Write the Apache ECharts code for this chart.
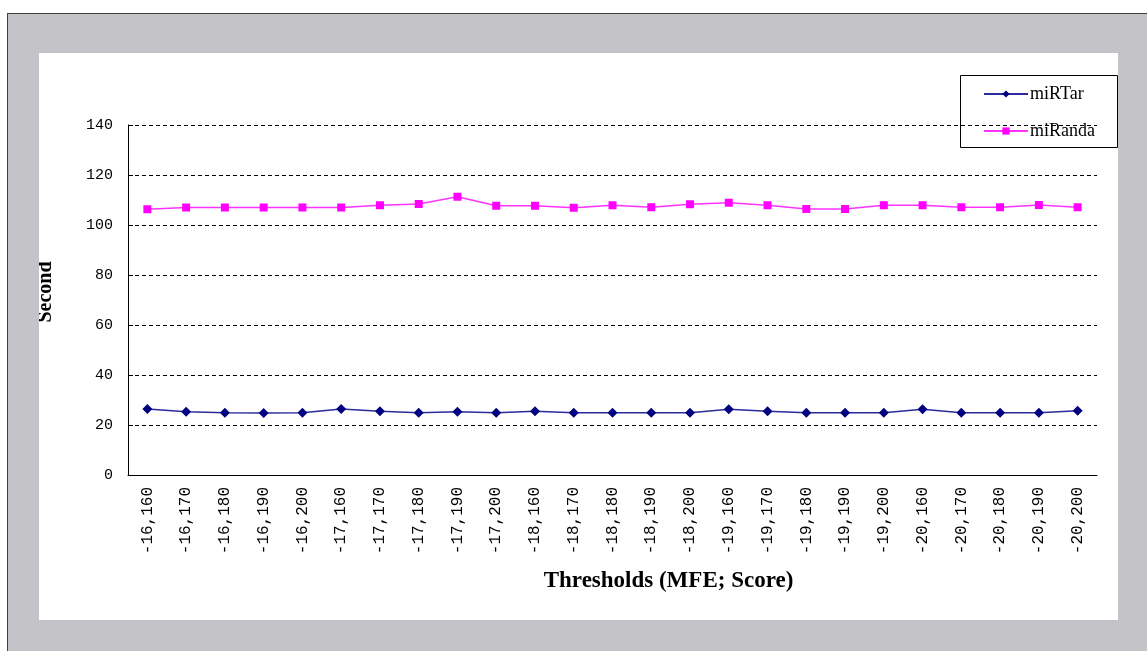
<!DOCTYPE html>
<html>
<head>
<meta charset="utf-8">
<script src="https://cdn.jsdelivr.net/npm/echarts@6/dist/echarts.min.js"></script>
<style>
  html, body { margin: 0; padding: 0; background: #fff; width: 1147px; height: 651px; overflow: hidden; }
  #frame { position: absolute; left: 7px; top: 13px; width: 1150px; height: 650px; background: #c4c3c7; border: 1px solid #404040; }
  #chart { position: absolute; left: 39px; top: 53px; width: 1079px; height: 567px; background: #fff; }
</style>
</head>
<body>
<div id="frame"></div>
<div id="chart"></div>
<script>
  var categories = ['-16,160', '-16,170', '-16,180', '-16,190', '-16,200',
    '-17,160', '-17,170', '-17,180', '-17,190', '-17,200',
    '-18,160', '-18,170', '-18,180', '-18,190', '-18,200',
    '-19,160', '-19,170', '-19,180', '-19,190', '-19,200',
    '-20,160', '-20,170', '-20,180', '-20,190', '-20,200']
  var miRTar = [26.4, 25.3, 24.9, 24.8, 24.9, 26.4, 25.5, 24.9, 25.3, 24.9, 25.5, 24.9, 24.9,
    24.9, 24.9, 26.3, 25.5, 24.9, 24.9, 24.9, 26.3, 24.9, 24.9, 24.9, 25.7]
  var miRanda = [106.3, 107, 107, 107, 107, 107, 107.9, 108.4, 111.3, 107.7, 107.7, 106.9, 107.9,
    107.1, 108.3, 108.9, 107.9, 106.4, 106.4, 107.9, 107.9, 107.1, 107.1, 108, 107.1]
  var yTicks = { min: 0, max: 140, interval: 20 }

  var serif = '"Liberation Serif", "Times New Roman", serif'
  var mono = '"Liberation Mono", monospace'
  var chart = echarts.init(document.getElementById('chart'))

  chart.setOption({
    animation: false,
    textStyle: { fontFamily: serif, color: '#000' },
    grid: { left: 89, top: 72, width: 969, height: 350, containLabel: false, outerBoundsMode: 'none' },
    graphic: [{
      type: 'rect',
      shape: { x: 921.5, y: 22.5, width: 157, height: 72 },
      style: { fill: '#fff', stroke: '#000', lineWidth: 1 },
      z: 0
    }],
    legend: {
      orient: 'vertical',
      left: 944,
      top: 32,
      itemWidth: 44,
      itemHeight: 9,
      itemGap: 19,
      padding: 0,
      textStyle: { fontFamily: serif, fontSize: 18, color: '#000', padding: [0, 0, 0, -3] },
      data: ['miRTar', 'miRanda'],
      z: 5
    },
    xAxis: {
      type: 'category',
      data: categories,
      boundaryGap: true,
      name: 'Thresholds (MFE; Score)',
      nameLocation: 'middle',
      nameGap: 95,
      nameTextStyle: { fontFamily: serif, fontSize: 23, fontWeight: 'bold', color: '#000', padding: [0, 0, 0, 112] },
      axisLine: { lineStyle: { color: '#000', width: 1 } },
      axisTick: { inside: true, length: 6, lineStyle: { color: '#000' } },
      axisLabel: { rotate: 90, fontFamily: mono, fontSize: 16, color: '#000', margin: 12, interval: 0 },
      splitLine: { show: false }
    },
    yAxis: {
      type: 'value',
      min: yTicks.min,
      max: yTicks.max,
      interval: yTicks.interval,
      name: 'Second',
      nameLocation: 'middle',
      nameRotate: 90,
      nameGap: 72,
      nameTextStyle: { fontFamily: serif, fontSize: 20, fontWeight: 'bold', color: '#000', padding: [0, 0, 0, 16] },
      axisLine: { show: true, lineStyle: { color: '#000', width: 1 } },
      axisTick: { show: true, inside: true, length: 5, lineStyle: { color: '#000' } },
      axisLabel: { fontFamily: mono, fontSize: 15, color: '#000', margin: 15 },
      splitLine: { show: true, lineStyle: { color: '#000', type: [4, 3], width: 1 } }
    },
    series: [
      {
        name: 'miRTar',
        type: 'line',
        data: miRTar,
        symbol: 'diamond',
        symbolSize: 10,
        itemStyle: { color: '#000080' },
        lineStyle: { color: '#2b2b9c', width: 1.5 }
      },
      {
        name: 'miRanda',
        type: 'line',
        data: miRanda,
        symbol: 'rect',
        symbolSize: 8,
        itemStyle: { color: '#ff00ff' },
        lineStyle: { color: '#ff33ff', width: 1.5 }
      }
    ]
  })
</script>
</body>
</html>
